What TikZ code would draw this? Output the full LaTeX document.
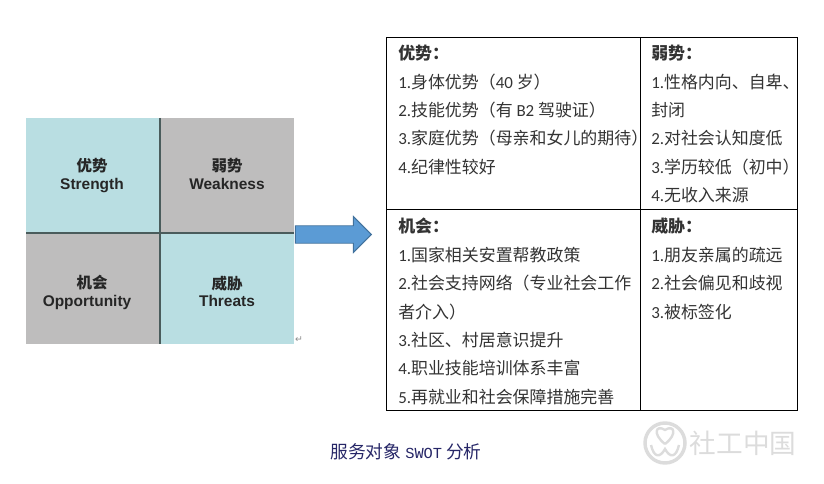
\documentclass[tikz,border=0pt]{standalone}
\usepackage{fontspec}
\setmainfont{Liberation Sans}
\newfontfamily\cjk{Noto Sans CJK SC}
\newfontfamily\latn{Carlito}
\newfontfamily\capmono{Liberation Mono}
\usetikzlibrary{positioning,shapes.arrows}
\newcommand{\nm}[1]{{\latn #1}}
\definecolor{swotblue}{HTML}{B9DEE2}
\definecolor{swotgrey}{HTML}{BEBDBD}
\definecolor{swotline}{HTML}{4A5C5C}
\definecolor{arrfill}{HTML}{5B9BD5}
\definecolor{arrline}{HTML}{41719C}
\definecolor{wmgrey}{HTML}{DCDCDC}
\tikzset{
quad/.style={minimum width=100.5pt,inner sep=0pt,outer sep=0pt},
quadtext/.style={inner sep=0pt,align=center,text=black!85,font=\fontsize{11.6}{13}\selectfont\bfseries},
cellbox/.style={draw=black,line width=.55pt,inner sep=0pt,outer sep=0pt},
celltext/.style={anchor=north west,inner sep=0pt,align=left,text=black!80,font=\fontsize{12.7}{21.3}\selectfont\cjk}
}

\begin{document}
\begin{tikzpicture}[x=.75pt,y=-.75pt,node distance=4cm]
\useasboundingbox (0,0) rectangle (824,484);

% left square
\node[quad,fill=swotblue,minimum height=86.25pt] (qs) at (93,175.5) {};
\node[quad,fill=swotgrey,minimum height=86.25pt] (qw) at (227,175.5) {};
\node[quad,fill=swotgrey,minimum height=83.25pt] (qo) at (93,288.5) {};
\node[quad,fill=swotblue,minimum height=83.25pt] (qt) at (227,288.5) {};
\draw[swotline,line width=1.1pt] (qs.north east) -- (qo.south east);
\draw[swotline,line width=1.1pt] (qo.north west) -- (qt.north east);
\node[quadtext,anchor=base] (ns) at (92,172) {{\cjk 优势}};
\node[quadtext,anchor=base] (es) at (92,189.5) {Strength};
\node[quadtext,anchor=base] (nw) at (227,172) {{\cjk 弱势}};
\node[quadtext,anchor=base] (ew) at (227,189.5) {Weakness};
\node[quadtext,anchor=base] (no) at (92,289) {{\cjk 机会}};
\node[quadtext,anchor=base] (eo) at (87,306.5) {Opportunity};
\node[quadtext,anchor=base] (nt) at (227,290) {{\cjk 威胁}};
\node[quadtext,anchor=base] (et) at (227,306.5) {Threats};
\node[text=black!45,inner sep=0pt,font=\fontsize{7}{7}\selectfont\fontspec{DejaVu Sans}] (ret) at (299,340) {↵};

% arrow
\node[single arrow,draw=arrline,fill=arrfill,line width=.7pt,inner xsep=0pt,inner ysep=6.2pt,outer sep=0pt,
  minimum height=57pt,single arrow head extend=6.9pt,single arrow tip angle=90] (arr) at (329,234.5) {};

% table
\node[cellbox,anchor=north west,minimum width=190.5pt,minimum height=129pt] (ts) at (386.5,37.5) {};
\node[cellbox,minimum width=117.75pt,minimum height=129pt,right=0pt of ts] (tw) {};
\node[cellbox,minimum width=190.5pt,minimum height=150.75pt,below=0pt of ts] (to) {};
\node[cellbox,minimum width=117.75pt,minimum height=150.75pt,below=0pt of tw] (tt) {};

\node[celltext] (ls) at (398,45) {\textbf{优势：}\\\nm{1.}身体优势（\nm{40} 岁）\\\nm{2.}技能优势（有 \nm{B2} 驾驶证）\\\nm{3.}家庭优势（母亲和女儿的期待）\\\nm{4.}纪律性较好};
\node[celltext] (lw) at (651,45) {\textbf{弱势：}\\\nm{1.}性格内向、自卑、\\封闭\\\nm{2.}对社会认知度低\\\nm{3.}学历较低（初中）\\\nm{4.}无收入来源};
\node[celltext] (lo) at (398,218) {\textbf{机会：}\\\nm{1.}国家相关安置帮教政策\\\nm{2.}社会支持网络（专业社会工作\\者介入）\\\nm{3.}社区、村居意识提升\\\nm{4.}职业技能培训体系丰富\\\nm{5.}再就业和社会保障措施完善};
\node[celltext] (lt) at (651,218) {\textbf{威胁：}\\\nm{1.}朋友亲属的疏远\\\nm{2.}社会偏见和歧视\\\nm{3.}被标签化};

% caption
\node[text=blue!30!black!85,inner sep=0pt,font=\fontsize{13.3}{15}\selectfont\cjk] (cap) at (406,452) {服务对象 {\capmono\fontsize{11.5}{15}\selectfont SWOT} 分析};

% watermark
\draw[wmgrey,line width=2.6pt] (665,443) circle (20);
\draw[wmgrey,line width=1.8pt] (665,444) .. controls (652,434) and (656,424) .. (665,430) .. controls (674,424) and (678,434) .. (665,444);
\draw[wmgrey,line width=1.8pt] (651,445) .. controls (654,458) and (660,458) .. (665,449) .. controls (670,458) and (676,458) .. (679,445);
\node[text=wmgrey,inner sep=0pt,font=\fontsize{20}{20}\selectfont\cjk] (wm) at (743,443) {社工中国};

\end{tikzpicture}
\end{document}
